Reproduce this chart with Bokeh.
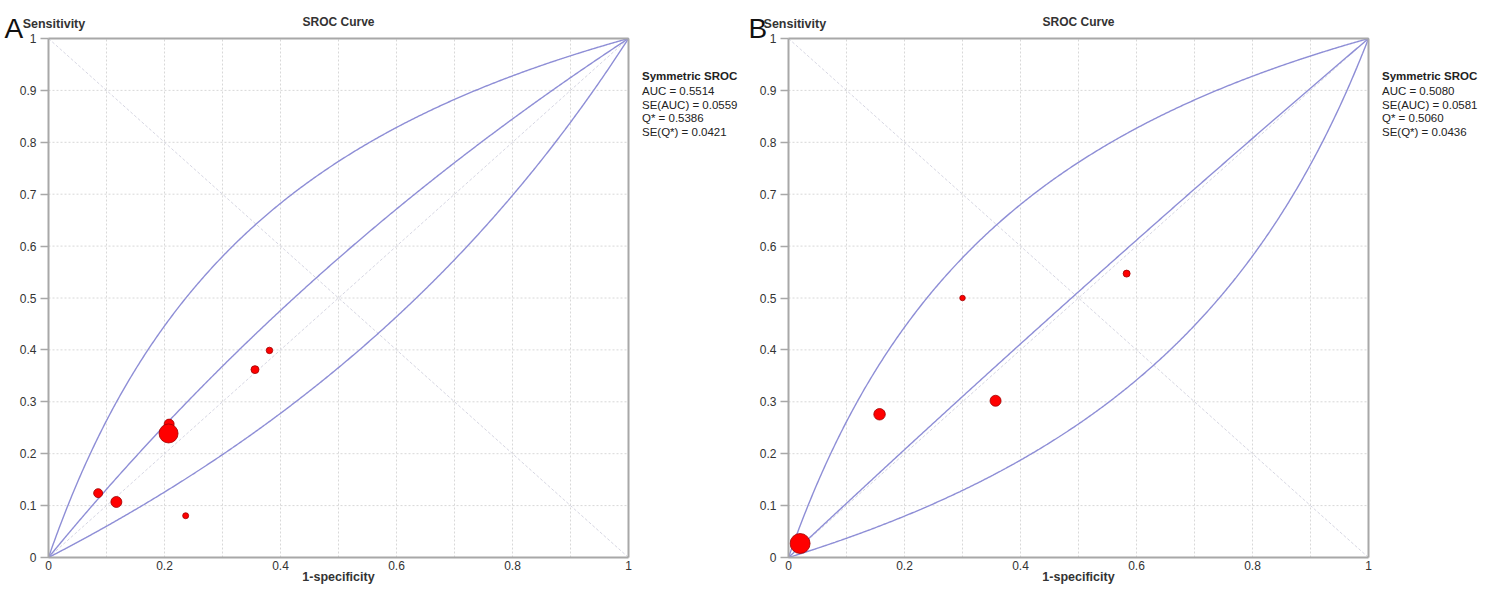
import numpy as np
from bokeh.plotting import figure
from bokeh.models import FixedTicker, Label, Range1d, LinearAxis
from bokeh.layouts import row
from bokeh.embed import file_html
from bokeh.resources import INLINE

# ---------------- data ----------------
# Panel A study points (1-specificity, sensitivity, marker diameter ~ study weight)
a_fpr = [0.0856, 0.117, 0.208, 0.207, 0.2365, 0.356, 0.381]
a_sens = [0.124, 0.107, 0.257, 0.239, 0.0805, 0.362, 0.399]
a_weight = [9, 11, 10, 19, 6, 8, 6.5]
# Symmetric SROC: log diagnostic odds ratio of the curve and its two bounds
a_D_curve = [0.309, 1.17, -0.55]
a_stats = ["Symmetric SROC", "AUC = 0.5514", "SE(AUC) = 0.0559",
           "Q* = 0.5386", "SE(Q*) = 0.0421"]

# Panel B
b_fpr = [0.020, 0.157, 0.300, 0.357, 0.583]
b_sens = [0.027, 0.276, 0.500, 0.302, 0.547]
b_weight = [20, 11.5, 5.5, 11, 7]
b_D_curve = [0.048, 1.16, -1.06]
b_stats = ["Symmetric SROC", "AUC = 0.5080", "SE(AUC) = 0.0581",
           "Q* = 0.5060", "SE(Q*) = 0.0436"]

x_ticks = [0, 0.2, 0.4, 0.6, 0.8, 1]
x_tick_labels = ["0", "0.2", "0.4", "0.6", "0.8", "1"]
y_ticks = [0, 0.1, 0.2, 0.3, 0.4, 0.5, 0.6, 0.7, 0.8, 0.9, 1]
y_tick_labels = ["0", "0.1", "0.2", "0.3", "0.4", "0.5", "0.6", "0.7", "0.8", "0.9", "1"]
grid_ticks = [0.1, 0.2, 0.3, 0.4, 0.5, 0.6, 0.7, 0.8, 0.9]

FONT = "Liberation Sans"
CURVE = "#8e8ed6"
AXIS = "#a8a8a8"
TXT = "#333333"

H = 590          # figure height
PX_X = 580.0     # pixels per unit on x
PX_Y = 519.0     # pixels per unit on y
TOP = 38         # frame top (px from figure top)
BOTTOM = 557     # frame bottom


def sroc(D, x):
    x = np.asarray(x)
    inner = x[1:-1]
    s = 1.0 / (1.0 + np.exp(-D) * (1 - inner) / inner)
    return np.concatenate([[0.0], s, [1.0]])


def panel(letter, letter_x, sens_x, fpr, sens, weight, Ds, stats, width, left):
    x0 = -left / PX_X
    x1 = (width - left) / PX_X
    y0 = -(H - BOTTOM) / PX_Y
    y1 = 1 + TOP / PX_Y
    p = figure(width=width, height=H, output_backend="svg", toolbar_location=None,
               x_range=Range1d(x0, x1), y_range=Range1d(y0, y1), min_border=0)
    p.background_fill_color = "white"
    p.border_fill_color = "white"
    p.outline_line_color = None
    p.xgrid.visible = False
    p.ygrid.visible = False

    # axes drawn at the edges of the unit square
    p.xaxis.fixed_location = 0
    p.yaxis.fixed_location = 0
    p.xaxis.bounds = (0, 1)
    p.yaxis.bounds = (0, 1)
    p.xaxis.ticker = FixedTicker(ticks=x_ticks)
    p.xaxis.major_label_overrides = dict(zip(x_ticks, x_tick_labels))
    p.yaxis.ticker = FixedTicker(ticks=y_ticks)
    p.yaxis.major_label_overrides = dict(zip(y_ticks, y_tick_labels))
    for ax in (p.xaxis[0], p.yaxis[0]):
        ax.axis_line_color = AXIS
        ax.axis_line_width = 2
        ax.minor_tick_line_color = None
        ax.major_label_text_font = FONT
        ax.major_label_text_font_size = "12px"
        ax.major_label_text_color = TXT
        ax.major_tick_line_color = AXIS
        ax.major_tick_line_width = 1.5
        ax.major_tick_in = 0
    p.xaxis.major_tick_out = 0
    p.xaxis.major_label_standoff = 3
    p.yaxis.major_tick_out = 8
    p.yaxis.major_label_standoff = 4

    for loc in ("above", "right"):
        ax = LinearAxis(fixed_location=1, bounds=(0, 1), ticker=FixedTicker(ticks=[]),
                        axis_line_color=AXIS, axis_line_width=2,
                        major_tick_line_color=None, minor_tick_line_color=None)
        p.add_layout(ax, loc)

    # dotted grid inside the unit square
    p.segment(x0=grid_ticks, y0=[0] * len(grid_ticks), x1=grid_ticks, y1=[1] * len(grid_ticks),
              line_color="#d8d8d8", line_dash="2 2", line_width=1)
    p.segment(x0=[0] * len(grid_ticks), y0=grid_ticks, x1=[1] * len(grid_ticks), y1=grid_ticks,
              line_color="#d8d8d8", line_dash="2 2", line_width=1)

    # diagonals
    p.line([0, 1], [0, 1], line_color="#d6d6e2", line_dash="3 2", line_width=1)
    p.line([0, 1], [1, 0], line_color="#d6d6e2", line_dash="3 2", line_width=1)

    # SROC curves
    xs = np.linspace(0, 1, 501)
    for D in Ds:
        p.line(xs, sroc(D, xs), line_color=CURVE, line_width=1.4)

    # study points
    p.scatter(fpr, sens, size=weight, fill_color="#ff0000",
              line_color="#a00000", line_width=0.8)

    # texts
    p.add_layout(Label(x=letter_x, y=1.0193, text=letter, text_font=FONT,
                       text_font_size="28px", text_color="#111111",
                       text_baseline="alphabetic", text_align="left"))
    p.add_layout(Label(x=sens_x, y=1.027, text="Sensitivity", text_font=FONT,
                       text_font_size="12.5px", text_font_style="bold",
                       text_color=TXT, text_baseline="middle", text_align="left"))
    p.add_layout(Label(x=0.5, y=1.031, text="SROC Curve", text_font=FONT,
                       text_font_size="12px", text_font_style="bold",
                       text_color=TXT, text_baseline="middle", text_align="center"))
    p.add_layout(Label(x=0.5, y=-0.0385, text="1-specificity", text_font=FONT,
                       text_font_size="12.5px", text_font_style="bold",
                       text_color=TXT, text_baseline="middle", text_align="center"))
    ys = [0.9268, 0.8998, 0.8728, 0.8459, 0.8189]
    for i, (t, yy) in enumerate(zip(stats, ys)):
        p.add_layout(Label(x=1.0232, y=yy, text=t, text_font=FONT,
                           text_font_size="11.5px",
                           text_font_style="bold" if i == 0 else "normal",
                           text_color="#222222", text_baseline="middle",
                           text_align="left"))
    return p


pa = panel("A", -0.0759, -0.0445, a_fpr, a_sens, a_weight, a_D_curve, a_stats, 745, 48)
pb = panel("B", -0.069, -0.043, b_fpr, b_sens, b_weight, b_D_curve, b_stats, 755, 43)

layout = row(pa, pb)
open("out.html", "w").write(file_html(layout, INLINE))
